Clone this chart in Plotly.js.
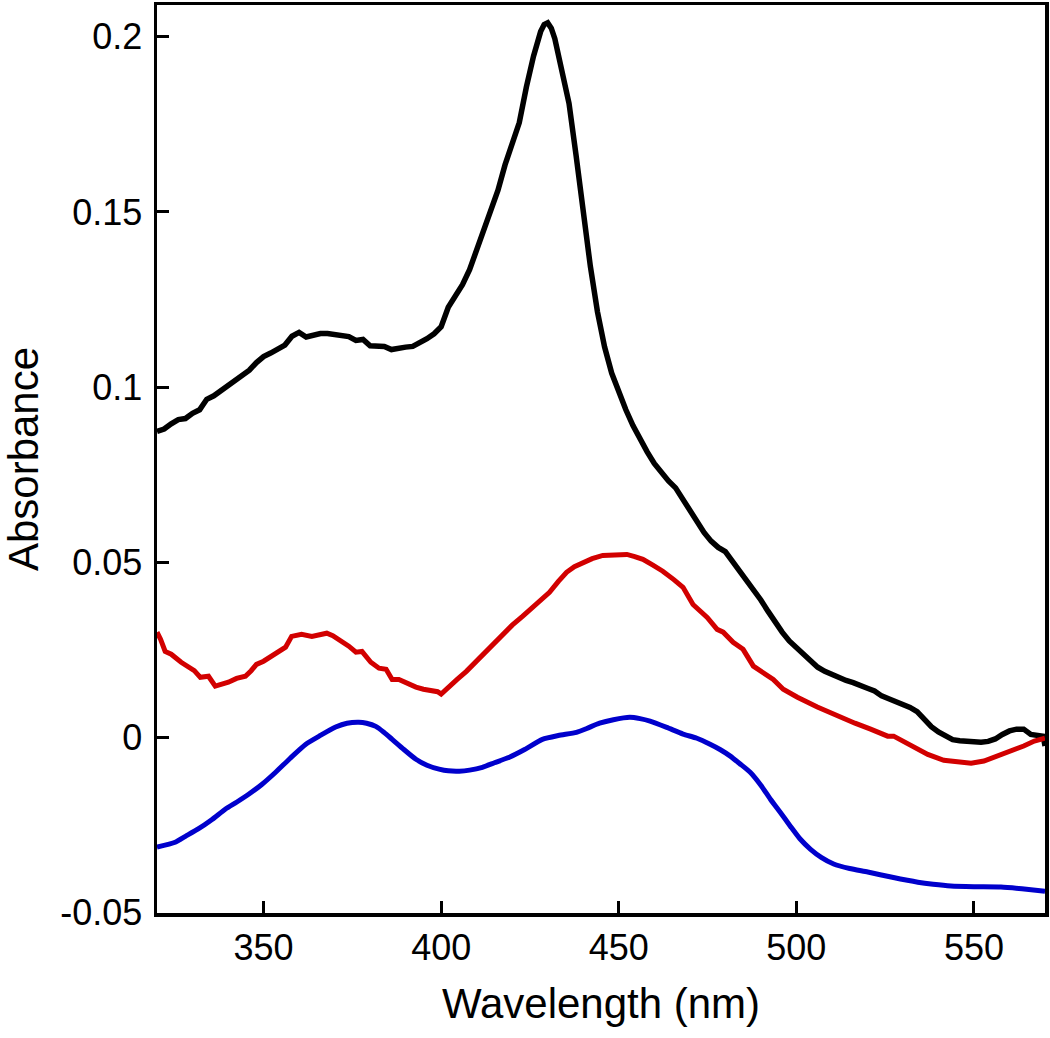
<!DOCTYPE html>
<html>
<head>
<meta charset="utf-8">
<script src="https://cdn.plot.ly/plotly-3.0.1.min.js"></script>
<style>html,body{margin:0;padding:0;background:#fff;}#chart{width:1050px;height:1038px;}</style>
</head>
<body>
<div id="chart"></div>
<script>
// Black spectrum
const blackWl = [320,322,324,326,328,330,332,334,336,338,340,342,344,346,348,350,352,354,356,358,360,362,364,366,368,370,372,374,376,378,380,382,384,386,388,390,392,394,396,398,400,402,404,406,408,410,412,414,416,418,420,422,424,426,428,429,430,431,432,434,436,438,440,442,444,446,448,450,452,454,456,458,460,462,464,466,468,470,472,474,476,478,480,482,484,486,488,490,492,494,496,498,500,502,504,506,508,510,512,514,516,518,520,522,524,526,528,530,532,534,536,538,540,542,544,546,548,550,552,554,556,558,560,562,564,566,568,569.5,570];
const blackAbs = [0.0873,0.0880,0.0895,0.0907,0.0910,0.0925,0.0935,0.0965,0.0975,0.0990,0.1005,0.1021,0.1032,0.1048,0.1070,0.1087,0.1097,0.1108,0.1120,0.1145,0.1156,0.1143,0.1150,0.1153,0.1153,0.1150,0.1148,0.1144,0.1133,0.1136,0.1118,0.1117,0.1116,0.1107,0.1112,0.1114,0.1116,0.1126,0.1138,0.1152,0.1172,0.1228,0.1260,0.1292,0.1335,0.1390,0.1445,0.1500,0.1562,0.1635,0.1695,0.1755,0.1857,0.1945,0.2015,0.2035,0.2040,0.2025,0.1995,0.1905,0.1810,0.1660,0.1495,0.1345,0.1215,0.1115,0.1040,0.0985,0.0935,0.0890,0.0850,0.0815,0.0782,0.0755,0.0732,0.0712,0.0680,0.0648,0.0615,0.0585,0.0560,0.0542,0.0530,0.0503,0.0472,0.0445,0.0418,0.0392,0.0360,0.0328,0.0300,0.0275,0.0255,0.0237,0.0215,0.0200,0.0188,0.0178,0.0170,0.0162,0.0156,0.0150,0.0140,0.0132,0.0118,0.0110,0.0102,0.0095,0.0085,0.0073,0.0050,0.0030,0.0015,0.0003,-0.0007,-0.0010,-0.0012,-0.0014,-0.0014,-0.0012,-0.0005,0.0008,0.0018,0.0023,0.0023,0.0008,0.0003,0.0003,-0.0025];

// Red spectrum
const redWl = [320,321,322.3,324,326.8,328.8,330.5,332.2,334.5,336.4,338,340.1,342.4,344.9,346.5,348,350,352.8,354.5,356.2,357.9,360.7,363.6,365.5,367.8,369.5,371.2,374,376,377.7,380.2,382.5,384.5,386.2,388.1,390.5,392.9,395,397.5,399,400,402.3,404.5,407.1,409.5,411.6,414.5,417.2,420,422.9,425.5,428.5,430.5,433,435.3,437.5,439.8,442.5,445.5,449,452.3,454.5,456.8,459.5,462.4,465.5,468.1,470.9,473,474.9,477.7,479.4,482.2,485,487.9,490.5,493.5,496.3,500.3,505.9,512.4,516.5,520.9,525.7,527.4,530,533.1,537,541.5,545,549.2,552.8,556.5,560.5,564,567,570];
const redAbs = [0.0300,0.0280,0.0245,0.0237,0.0214,0.0203,0.0190,0.0171,0.0174,0.0146,0.0150,0.0157,0.0168,0.0174,0.0190,0.0208,0.0217,0.0237,0.0245,0.0257,0.0288,0.0294,0.0288,0.0292,0.0297,0.0290,0.0280,0.0260,0.0243,0.0245,0.0214,0.0197,0.0194,0.0165,0.0165,0.0152,0.0143,0.0137,0.0134,0.0130,0.0123,0.0146,0.0165,0.0188,0.0212,0.0237,0.0265,0.0294,0.0320,0.0345,0.0368,0.0394,0.0414,0.0445,0.0471,0.0487,0.0499,0.0510,0.0519,0.0522,0.0522,0.0516,0.0508,0.0492,0.0474,0.0450,0.0428,0.0379,0.0360,0.0342,0.0308,0.0300,0.0271,0.0251,0.0203,0.0185,0.0165,0.0137,0.0114,0.0086,0.0057,0.0040,0.0023,0.0003,0.0003,-0.0012,-0.0029,-0.0049,-0.0066,-0.0071,-0.0074,-0.0068,-0.0055,-0.0040,-0.0025,-0.0011,-0.0003];

// Blue spectrum
const blueWl = [320,325.1,328,331.6,335.5,339.3,342.5,345.8,349.5,353.4,357.5,361.9,366,370.3,373.5,376.8,379,381.6,384,386.2,389.5,392.9,396,399.4,402,405.1,408,411.6,415,419.2,423.5,428.5,433,438.1,441,444.6,448.5,453.1,456,458.8,463.5,468.1,472,475.7,478.5,481.4,484,487,490,492.7,495.5,498.3,501,504,507,510.5,515,520.1,527,534.2,538.5,543.5,550,557.6,563.5,570];
const blueAbs = [-0.0314,-0.0300,-0.0283,-0.0262,-0.0235,-0.0205,-0.0185,-0.0163,-0.0135,-0.0100,-0.0060,-0.0020,0.0005,0.0029,0.0040,0.0043,0.0040,0.0031,0.0013,-0.0006,-0.0035,-0.0063,-0.0080,-0.0091,-0.0096,-0.0097,-0.0094,-0.0086,-0.0073,-0.0057,-0.0035,-0.0006,0.0005,0.0014,0.0025,0.0040,0.0050,0.0057,0.0053,0.0046,0.0028,0.0009,-0.0003,-0.0020,-0.0035,-0.0054,-0.0075,-0.0100,-0.0137,-0.0177,-0.0215,-0.0254,-0.0290,-0.0320,-0.0343,-0.0362,-0.0375,-0.0385,-0.0400,-0.0414,-0.0420,-0.0425,-0.0427,-0.0428,-0.0433,-0.0440];

const xTicks = [350,400,450,500,550];
const yTicks = [-0.05,0,0.05,0.1,0.15,0.2];
const yTickText = ['-0.05','0','0.05','0.1','0.15','0.2'];

const font = 'Liberation Sans, Arial, Helvetica, sans-serif';

const traces = [
  {x: blackWl, y: blackAbs, mode:'lines', line:{color:'#000000', width:5.5}, hoverinfo:'skip'},
  {x: redWl, y: redAbs, mode:'lines', line:{color:'#d20000', width:5}, hoverinfo:'skip'},
  {x: blueWl, y: blueAbs, mode:'lines', line:{color:'#0000cc', width:5, shape:'spline', smoothing:0.6}, hoverinfo:'skip'}
];

const layout = {
  width:1050, height:1038,
  margin:{l:157, r:5, t:5, b:125},
  showlegend:false,
  xaxis:{
    range:[320,570], tickmode:'array', tickvals:xTicks, ticktext:xTicks.map(String),
    ticks:'inside', ticklen:12, tickwidth:3, tickcolor:'#000',
    showline:true, linewidth:3.5, linecolor:'#000', mirror:true,
    showgrid:false, zeroline:false,
    tickfont:{family:font, size:36, color:'#000'},
    title:{text:'Wavelength (nm)', font:{family:font, size:42, color:'#000'}, standoff:23}
  },
  yaxis:{
    range:[-0.0502,0.2091], tickmode:'array', tickvals:yTicks, ticktext:yTickText,
    ticks:'inside', ticklen:12, tickwidth:3, tickcolor:'#000',
    showline:true, linewidth:3.5, linecolor:'#000', mirror:true,
    showgrid:false, zeroline:false,
    tickfont:{family:font, size:36, color:'#000'},
    ticklabelstandoff:4,
    title:{text:'Absorbance', font:{family:font, size:42, color:'#000'}, standoff:14}
  }
};

Plotly.newPlot('chart', traces, layout, {staticPlot:true, displayModeBar:false});
</script>
</body>
</html>
